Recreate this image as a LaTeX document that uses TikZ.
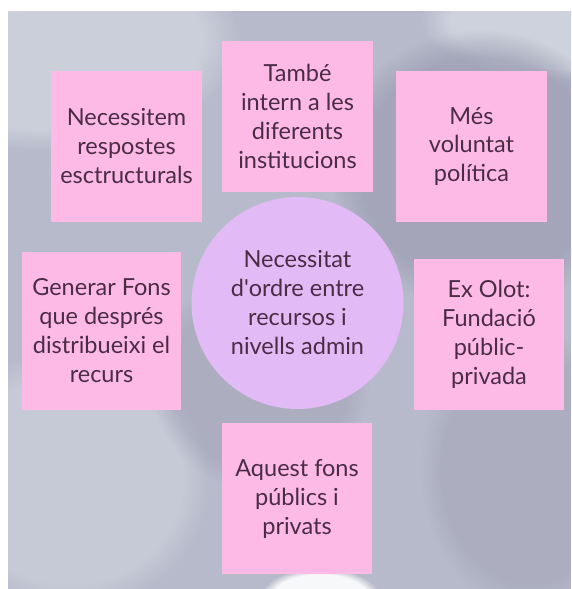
\documentclass[tikz,border=0pt]{standalone}
\usepackage{fontspec}
\setmainfont{Lato}
\usetikzlibrary{fadings}
\definecolor{bgbase}{HTML}{B7BACA}
\definecolor{bgdark}{HTML}{9C9DB2}
\definecolor{bglight}{HTML}{D0D5DF}
\definecolor{notepink}{HTML}{FDBAE6}
\definecolor{circlelav}{HTML}{E2BAF6}
\definecolor{inktext}{HTML}{4B2C45}
\tikzset{
  note/.style={fill=notepink, draw=none, inner sep=0pt, align=center,
    text=inktext, font=\fontsize{23.5}{29}\selectfont},
  hub/.style={circle, fill=circlelav, draw=none, inner sep=0pt, align=center,
    text=inktext, font=\fontsize{23.5}{29}\selectfont, minimum size=212pt},
  blob/.style={path fading=circle with fuzzy edge 20 percent}
}
\begin{document}
\begin{tikzpicture}[x=1pt,y=-1pt]
\useasboundingbox (0,0) rectangle (571,589);
\fill[white] (0,0) rectangle (571,589);
\begin{scope}
\clip (8,11) rectangle (571,589);
\fill[bgbase] (8,11) rectangle (571,589);
\fill[bglight, blob, opacity=0.8] (40,40) ellipse (200 and 110);
\fill[bglight, blob, opacity=0.9] (571,20) ellipse (150 and 60);
\fill[bgdark, blob, opacity=0.7] (480,170) ellipse (150 and 140);
\fill[bgdark, blob, opacity=0.4] (530,470) ellipse (110 and 140);
\fill[bglight, blob, opacity=0.6] (70,480) ellipse (140 and 130);
\fill[bgdark, blob, opacity=0.4] (260,380) ellipse (110 and 110);
\fill[white, blob, opacity=0.9] (320,598) ellipse (60 and 30);
\end{scope}
\node[hub] (hub) at (297.5,303) {Necessitat\\d\textquotesingle ordre entre\\recursos i\\nivells admin};
\node[note, minimum width=151pt, minimum height=151pt] (tl) at (126.5,146.5) {Necessitem\\respostes\\esctructurals};
\node[note, minimum width=151pt, minimum height=151pt] (tm) at (297.5,116.5) {També\\intern a les\\diferents\\institucions};
\node[note, minimum width=151pt, minimum height=151pt] (tr) at (471.5,146.5) {Més\\voluntat\\política};
\node[note, minimum width=159pt, minimum height=158pt] (lf) at (101.5,331) {Generar Fons\\que després\\distribueixi el\\recurs};
\node[note, minimum width=150pt, minimum height=151pt] (rt) at (489,334.5) {Ex Olot:\\Fundació\\públic-\\privada};
\node[note, minimum width=150pt, minimum height=151pt] (bt) at (297,498.5) {Aquest fons\\públics i\\privats};
\end{tikzpicture}
\end{document}
